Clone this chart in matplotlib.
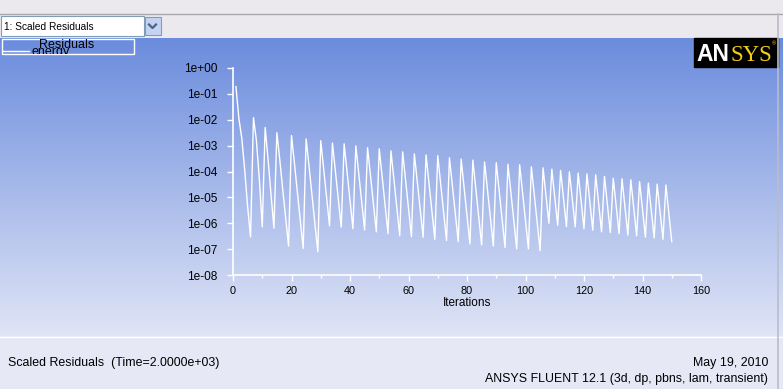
import numpy as np
import matplotlib
matplotlib.use('Agg')
import matplotlib.pyplot as plt
from matplotlib.patches import Rectangle
from matplotlib.ticker import FixedLocator, LogLocator, NullFormatter

# log10 of the scaled energy residual, one value per iteration
# time steps 1-7 (iterations 1-33)
steps_early = [
    -0.72, -1.94, -2.71, -3.94, -5.36, -6.53,
    -1.92, -2.80, -4.30, -6.14,
    -2.30, -3.55, -4.90, -6.19,
    -2.50, -3.55, -4.70, -5.80, -6.88,
    -2.61, -3.68, -4.80, -5.90, -6.97,
    -2.74, -3.80, -4.92, -6.02, -7.10,
    -2.81, -3.90, -5.00, -6.10,
]
# 4 iterations per step (iterations 34-105)
steps_mid = [
    -2.90, -3.98, -5.07, -6.15,
    -2.93, -4.02, -5.12, -6.21,
    -3.01, -4.09, -5.18, -6.26,
    -3.08, -4.16, -5.25, -6.33,
    -3.12, -4.21, -5.31, -6.40,
    -3.20, -4.29, -5.39, -6.48,
    -3.24, -4.33, -5.43, -6.52,
    -3.32, -4.39, -5.47, -6.54,
    -3.36, -4.45, -5.53, -6.62,
    -3.39, -4.48, -5.58, -6.67,
    -3.47, -4.55, -5.63, -6.71,
    -3.52, -4.61, -5.71, -6.80,
    -3.56, -4.65, -5.75, -6.84,
    -3.63, -4.71, -5.80, -6.88,
    -3.66, -4.75, -5.85, -6.94,
    -3.72, -4.81, -5.90, -6.99,
    -3.74, -4.82, -5.91, -6.99,
    -3.82, -4.90, -5.98, -7.06,
]
# 3 iterations per step (iterations 106-150)
steps_late = [
    -3.86, -4.93, -6.00,
    -3.91, -5.00, -6.08,
    -3.96, -5.05, -6.13,
    -4.01, -5.08, -6.14,
    -4.06, -5.14, -6.21,
    -4.09, -5.18, -6.27,
    -4.13, -5.23, -6.33,
    -4.19, -5.28, -6.36,
    -4.26, -5.33, -6.40,
    -4.28, -5.37, -6.46,
    -4.32, -5.41, -6.49,
    -4.39, -5.47, -6.54,
    -4.45, -5.51, -6.57,
    -4.49, -5.56, -6.62,
    -4.52, -5.62, -6.71,
]

energy_log = steps_early + steps_mid + steps_late
iterations = list(range(1, len(energy_log) + 1))

xticks = [0, 20, 40, 60, 80, 100, 120, 140, 160]
yticks = [1e-8, 1e-7, 1e-6, 1e-5, 1e-4, 1e-3, 1e-2, 1e-1, 1e0]
ytick_labels = ['1e-08', '1e-07', '1e-06', '1e-05', '1e-04', '1e-03', '1e-02', '1e-01', '1e+00']

W, H = 783, 389
plt.rcParams['font.family'] = ['Liberation Sans', 'DejaVu Sans']

fig = plt.figure(figsize=(W / 100, H / 100), dpi=100)

#background in pixel coords
bg = fig.add_axes([0, 0, 1, 1])
bg.set_xlim(0, W)
bg.set_ylim(H, 0)
bg.axis('off')

#gray window strip on top
bg.add_patch(Rectangle((0, 0), W, 38, color='#ebe9ed', zorder=0))
bg.plot([0, W], [13.5, 13.5], color='#a8a8a8', lw=1)

#blue gradient
top = np.array([107, 140, 221]) / 255
bot = np.array([224, 229, 246]) / 255
t = np.linspace(0, 1, 300)[:, None]
grad = top + (bot - top) * t
bg.imshow(grad[:, None, :], extent=(0, W, 336, 38), aspect='auto', zorder=0)

#bottom panel
bg.add_patch(Rectangle((0, 336), W, H - 336, color='#e6e8f6', zorder=0))
bg.plot([0, W], [336.5, 336.5], color='white', lw=1)
bg.plot([778, 778], [14, H], color='#b9bccb', lw=1.2)

#dropdown
bg.add_patch(Rectangle((0.5, 16), 143, 20, facecolor='white', edgecolor='#7f9db9', lw=0.8))
bg.add_patch(Rectangle((144.5, 17), 16, 18, facecolor='#c4d3f2', edgecolor='#7f9db9', lw=0.8))
bg.plot([149, 152.5, 156], [24.5, 28, 24.5], color='#4d6185', lw=1.6)
bg.text(4, 26.5, '1: Scaled Residuals', fontsize=7.3, va='center', ha='left', color='black')

#legend box
bg.add_patch(Rectangle((2, 39), 132, 15, facecolor='none', edgecolor='white', lw=1))
bg.text(67, 45, 'Residuals', fontsize=9, ha='center', va='center', color='black')
bg.plot([3, 29], [50.5, 50.5], color='white', lw=1)
energy_txt = bg.text(31, 55, 'energy', fontsize=9, ha='left', va='baseline', color='black',
                     clip_on=True)
energy_txt.set_clip_path(Rectangle((0, 39), 134, 14.5, transform=bg.transData))

#ANSYS logo
bg.add_patch(Rectangle((694, 38), 84, 29, color='black'))
bg.text(696, 61, 'AN', fontsize=16.5, fontweight='bold', color='white', ha='left', va='baseline')
bg.text(731, 61, 'SYS', fontsize=16.5, color='#f2cd1b', ha='left', va='baseline',
        family='Liberation Serif')
bg.text(774, 44, '\u00ae', fontsize=4, color='#f2cd1b', ha='center', va='center')

#footer text
bg.text(8, 363, 'Scaled Residuals  (Time=2.0000e+03)', fontsize=8.9, ha='left', va='center')
bg.text(768, 363, 'May 19, 2010', fontsize=8.9, ha='right', va='center')
bg.text(768, 379, 'ANSYS FLUENT 12.1 (3d, dp, pbns, lam, transient)', fontsize=8.9,
        ha='right', va='center')

#residual plot
ax = fig.add_axes([233 / W, (H - 275) / H, 468 / W, 207 / H])
ax.patch.set_alpha(0)
ax.plot(iterations, [10 ** v for v in energy_log], color='white', lw=1)
ax.set_yscale('log')
ax.set_xlim(0, 160)
ax.set_ylim(1e-8, 1)
ax.xaxis.set_major_locator(FixedLocator(xticks))
ax.set_xticklabels([str(v) for v in xticks])
ax.xaxis.set_minor_locator(FixedLocator([10, 30, 50, 70, 90, 110, 130, 150]))
ax.yaxis.set_major_locator(FixedLocator(yticks))
ax.set_yticklabels(ytick_labels)
ax.yaxis.set_minor_locator(LogLocator(base=10, subs=(2, 3, 5, 8)))
ax.yaxis.set_minor_formatter(NullFormatter())
for s in ['top', 'right']:
    ax.spines[s].set_visible(False)
for s in ['left', 'bottom']:
    ax.spines[s].set_color('white')
    ax.spines[s].set_linewidth(1.2)
ax.tick_params(which='major', colors='white', labelcolor='black', length=4.5, width=1,
               direction='out')
ax.tick_params(which='minor', colors='white', length=2.2, width=1, direction='out')
ax.tick_params(axis='y', labelsize=8.6, pad=7)
ax.tick_params(axis='x', labelsize=7.8, pad=3.5)
ax.set_xlabel('Iterations', fontsize=8.5, labelpad=1)

fig.savefig('out.png', dpi=100)
